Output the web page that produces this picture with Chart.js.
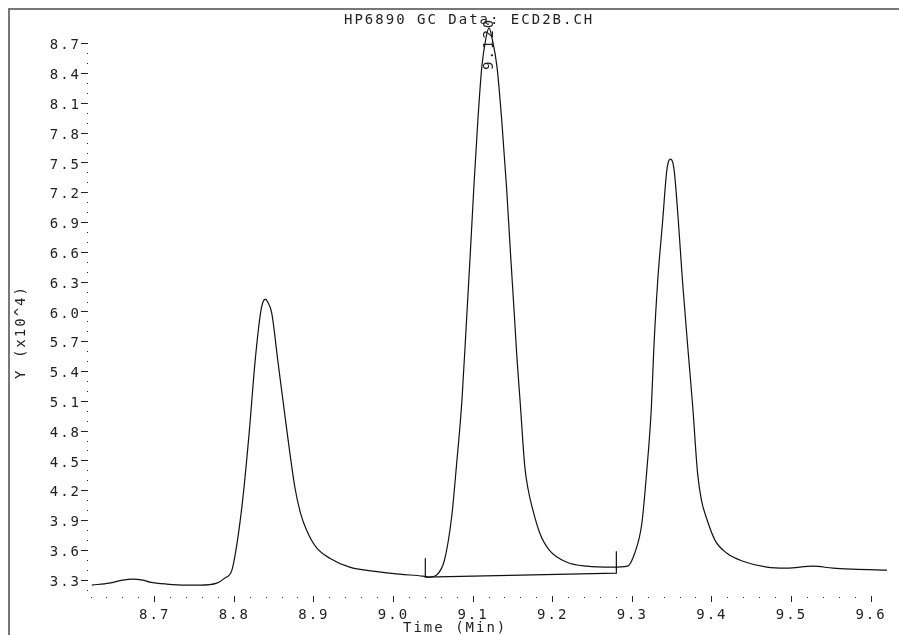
<!DOCTYPE html>
<html>
<head>
<meta charset="utf-8">
<title>HP6890 GC Data: ECD2B.CH</title>
<script src="https://cdn.jsdelivr.net/npm/chart.js@4.4.1/dist/chart.umd.min.js"></script>
<style>
  html, body { margin: 0; padding: 0; background: #fff; }
</style>
</head>
<body>
<canvas id="gcChart" width="899" height="635"></canvas>
<script>
// ===========================
// DATA (time in min, signal in x10^4)
// ===========================

const times = [8.621, 8.643, 8.660, 8.672, 8.685, 8.694, 8.715, 8.740, 8.757, 8.778,
    8.788, 8.797, 8.804, 8.811, 8.819, 8.826, 8.833, 8.836, 8.839, 8.842,
    8.847, 8.855, 8.866, 8.876, 8.883, 8.891, 8.903, 8.920, 8.945, 8.974, 9.008,
    9.037, 9.046, 9.054, 9.064, 9.073, 9.079, 9.086, 9.092, 9.0965, 9.101,
    9.106, 9.111, 9.116, 9.120, 9.124, 9.130, 9.136, 9.142, 9.147, 9.152,
    9.155, 9.159, 9.165, 9.169, 9.174, 9.184, 9.196, 9.218, 9.243, 9.275, 9.294, 9.303,
    9.312, 9.318, 9.324, 9.327, 9.332, 9.338, 9.343, 9.345, 9.348, 9.351,
    9.353, 9.358, 9.363, 9.370, 9.376, 9.382, 9.387, 9.393, 9.404, 9.419, 9.439,
    9.469, 9.494, 9.527, 9.552, 9.577, 9.620];

const signal = [3.25, 3.27, 3.30, 3.31, 3.30, 3.28, 3.26, 3.25, 3.25, 3.27,
    3.32, 3.40, 3.70, 4.14, 4.81, 5.49, 5.99, 6.10, 6.13, 6.10,
    5.99, 5.49, 4.81, 4.24, 3.98, 3.80, 3.63, 3.52, 3.43, 3.39, 3.36,
    3.34, 3.33, 3.35, 3.50, 3.93, 4.44, 5.11, 5.95, 6.59, 7.26,
    7.93, 8.47, 8.75, 8.86, 8.75, 8.47, 7.93, 7.26, 6.59, 5.95,
    5.55, 5.11, 4.44, 4.22, 4.04, 3.77, 3.60, 3.48, 3.44, 3.43, 3.44, 3.57,
    3.87, 4.38, 5.04, 5.62, 6.32, 6.90, 7.40, 7.50, 7.54, 7.50,
    7.40, 6.90, 6.32, 5.62, 5.04, 4.38, 4.10, 3.93, 3.70, 3.57, 3.49,
    3.43, 3.42, 3.44, 3.42, 3.41, 3.40];

// integration baseline with start / stop markers
const baseTimes = [9.04, 9.04, 9.28, 9.28];
const baseSignal = [3.52, 3.33, 3.37, 3.59];

// labelled peak
const peakTime = 9.12;
const peakLabel = '9.120';

const xTickLabels = ['8.7', '8.8', '8.9', '9.0', '9.1', '9.2', '9.3', '9.4', '9.5', '9.6'];
const yTickLabels = ['3.3', '3.6', '3.9', '4.2', '4.5', '4.8', '5.1', '5.4', '5.7', '6.0',
    '6.3', '6.6', '6.9', '7.2', '7.5', '7.8', '8.1', '8.4', '8.7'];

const chartTitle = 'HP6890 GC Data: ECD2B.CH';
const xTitle = 'Time (Min)';
const yTitle = 'Y (x10^4)';

// ===========================
// HELPERS
// ===========================

const FONT = { family: "'DejaVu Sans Mono', monospace", size: 14 };
const SPACING = '2px';
const INK = '#222';

function stepList(from, to, step) {
    const out = [];
    const n = Math.round((to - from) / step);
    for (let i = 0; i <= n; i++) out.push(Math.round((from + i * step) * 1000) / 1000);
    return out;
}

const xTicks = stepList(8.62, 9.60, 0.02);
const yTicks = stepList(3.2, 8.7, 0.1);

function labelFor(list, value) {
    const hit = list.find(l => Math.abs(parseFloat(l) - value) < 1e-6);
    return hit || '';
}

function majorX(ctx) { return ctx.tick && labelFor(xTickLabels, ctx.tick.value) !== ''; }
function majorY(ctx) { return ctx.tick && labelFor(yTickLabels, ctx.tick.value) !== ''; }

const letterSpacing = {
    id: 'letterSpacing',
    beforeLayout(chart) { chart.ctx.letterSpacing = SPACING; },
    beforeDraw(chart) { chart.ctx.letterSpacing = SPACING; }
};

const decorations = {
    id: 'decorations',
    afterDraw(chart) {
        const ctx = chart.ctx;
        const xs = chart.scales.x;
        const ys = chart.scales.y;
        ctx.save();
        ctx.letterSpacing = SPACING;

        // frame
        ctx.strokeStyle = '#777';
        ctx.lineWidth = 2;
        ctx.beginPath();
        ctx.moveTo(9, chart.height);
        ctx.lineTo(9, 9);
        ctx.lineTo(chart.width, 9);
        ctx.stroke();

        ctx.fillStyle = INK;
        ctx.font = FONT.size + 'px ' + FONT.family;
        ctx.textBaseline = 'middle';

        // title
        ctx.textAlign = 'left';
        ctx.fillText(chartTitle, 344, 20);

        // x title
        ctx.fillText(xTitle, 403, 628);

        // y title
        ctx.save();
        ctx.translate(21, 332);
        ctx.rotate(-Math.PI / 2);
        ctx.textAlign = 'center';
        ctx.fillText(yTitle, 0, 0);
        ctx.restore();

        // peak label, vertical
        const apex = Math.max(...signal);
        ctx.save();
        ctx.translate(xs.getPixelForValue(peakTime), ys.getPixelForValue(apex) + 42);
        ctx.rotate(-Math.PI / 2);
        ctx.textAlign = 'left';
        ctx.fillText(peakLabel, 0, 0);
        ctx.restore();

        ctx.restore();
    }
};

// ===========================
// CHART
// ===========================

const chart = new Chart(document.getElementById('gcChart'), {
    type: 'line',
    data: {
        datasets: [
            {
                label: 'ECD2B',
                data: times.map((t, i) => ({ x: t, y: signal[i] })),
                borderColor: '#111',
                borderWidth: 1.2,
                pointRadius: 0,
                cubicInterpolationMode: 'monotone',
                fill: false
            },
            {
                label: 'baseline',
                data: baseTimes.map((t, i) => ({ x: t, y: baseSignal[i] })),
                borderColor: '#111',
                borderWidth: 1.2,
                pointRadius: 0,
                tension: 0,
                fill: false
            }
        ]
    },
    options: {
        responsive: false,
        devicePixelRatio: 1,
        animation: false,
        layout: { padding: { left: 0, right: 12, top: 14, bottom: 0 } },
        plugins: {
            legend: { display: false },
            tooltip: { enabled: false },
            title: { display: false }
        },
        scales: {
            x: {
                type: 'linear',
                min: 8.62,
                max: 9.62,
                afterFit(scale) { scale.height = 40; },
                afterBuildTicks(scale) { scale.ticks = xTicks.map(v => ({ value: v })); },
                border: { display: false },
                grid: {
                    drawOnChartArea: false,
                    tickLength: 7,
                    tickColor: INK,
                    tickWidth: 1,
                    tickBorderDash: ctx => majorX(ctx) ? [6, 100] : [1, 100],
                    tickBorderDashOffset: ctx => majorX(ctx) ? -1 : -2
                },
                ticks: {
                    autoSkip: false,
                    maxRotation: 0,
                    padding: 5,
                    color: INK,
                    font: FONT,
                    callback: value => labelFor(xTickLabels, value)
                }
            },
            y: {
                type: 'linear',
                min: 3.15,
                max: 9.0,
                afterFit(scale) { scale.width = 91; },
                afterBuildTicks(scale) { scale.ticks = yTicks.map(v => ({ value: v })); },
                border: { display: false },
                grid: {
                    drawOnChartArea: false,
                    tickLength: 10,
                    tickColor: INK,
                    tickWidth: 1,
                    tickBorderDash: ctx => majorY(ctx) ? [7, 100] : [1, 100],
                    tickBorderDashOffset: ctx => majorY(ctx) ? 0 : -6
                },
                ticks: {
                    autoSkip: false,
                    padding: 0,
                    labelOffset: 2,
                    color: INK,
                    font: FONT,
                    callback: value => labelFor(yTickLabels, value)
                }
            }
        }
    },
    plugins: [letterSpacing, decorations]
});
</script>
</body>
</html>
